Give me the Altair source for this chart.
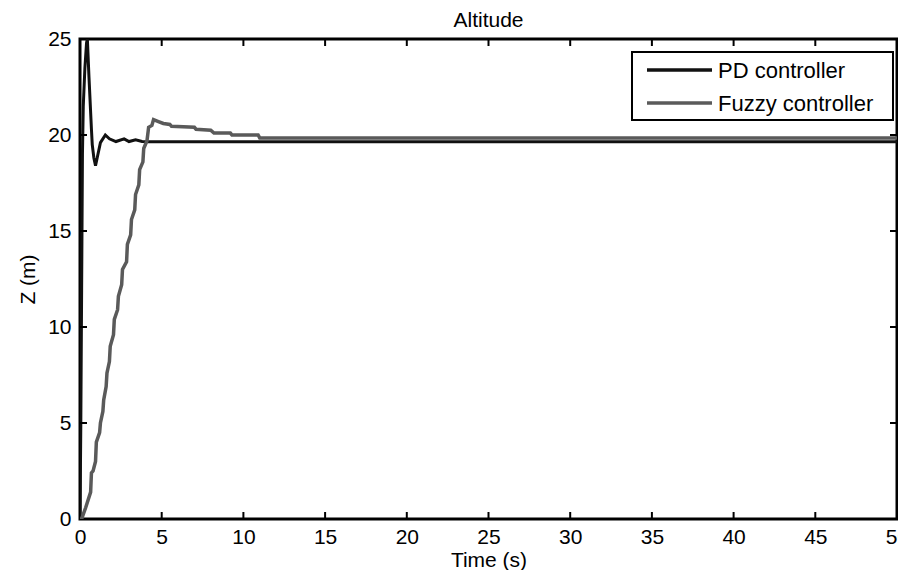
import altair as alt
import pandas as pd

# ---- data ----
series_names = ["PD controller", "Fuzzy controller"]
series_colors = ["#111111", "#5a5a5a"]

pd_t = [0, 0.05, 0.1, 0.15, 0.2, 0.3, 0.4, 0.45, 0.55, 0.7, 0.75, 0.85, 0.95, 1.05,
        1.25, 1.55, 1.8, 2.2, 2.7, 3.0, 3.4, 3.8, 4.2, 50]
pd_z = [0, 5, 12, 19, 21.5, 23.5, 24.8, 25, 23, 20.3, 19.5, 18.8, 18.4, 18.8,
        19.6, 20.0, 19.8, 19.66, 19.8, 19.66, 19.75, 19.66, 19.65, 19.65]

fz_t = [0, 0.1, 0.35, 0.65, 0.7, 0.8, 0.95, 1.0, 1.2, 1.25, 1.4, 1.45, 1.6, 1.65,
        1.8, 1.85, 2.05, 2.1, 2.3, 2.35, 2.55, 2.6, 2.85, 2.9, 3.1, 3.15, 3.35,
        3.4, 3.6, 3.65, 3.85, 3.9, 4.1, 4.2, 4.4, 4.5, 4.8, 5.1, 5.5, 5.6, 7.0,
        7.1, 8.0, 8.2, 9.2, 9.3, 10.9, 11.0, 50]
fz_z = [0, 0, 0.6, 1.4, 2.4, 2.5, 3.0, 4.0, 4.5, 5.0, 5.6, 6.2, 6.9, 7.6,
        8.2, 9.0, 9.6, 10.4, 10.9, 11.6, 12.2, 13.0, 13.4, 14.3, 14.8, 15.6, 16.1,
        16.9, 17.4, 18.2, 18.6, 19.3, 19.7, 20.4, 20.5, 20.8, 20.7, 20.6, 20.55, 20.45, 20.4,
        20.3, 20.25, 20.1, 20.1, 20.0, 20.0, 19.85, 19.85]

x_ticks = [0, 5, 10, 15, 20, 25, 30, 35, 40, 45, 50]
y_ticks = [0, 5, 10, 15, 20, 25]

W, H = 817, 480
FONT = "Liberation Sans"

pd_df = pd.DataFrame({"t": pd_t, "z": pd_z, "series": series_names[0]})
fz_df = pd.DataFrame({"t": fz_t, "z": fz_z, "series": series_names[1]})
xt_df = pd.DataFrame({"v": x_ticks[1:-1]})
yt_df = pd.DataFrame({"v": y_ticks[1:-1]})

color_scale = alt.Scale(domain=series_names, range=series_colors)
x_scale = alt.Scale(domain=[0, 50], nice=False)
y_scale = alt.Scale(domain=[0, 25], nice=False)

x_enc = alt.X("t:Q", scale=x_scale, title="Time (s)",
              axis=alt.Axis(values=x_ticks, tickSize=0, domain=False, grid=False,
                            labelPadding=7, labelFontSize=21,
                            titleFontSize=21, titleFontWeight="normal",
                            titleY=47, titleBaseline="alphabetic",
                            labelColor="black", titleColor="black", labelFlush=False))
y_enc = alt.Y("z:Q", scale=y_scale, title="Z (m)",
              axis=alt.Axis(values=y_ticks, tickSize=0, domain=False, grid=False,
                            labelPadding=9, titlePadding=9, labelFontSize=21,
                            titleFontSize=21, titleFontWeight="normal",
                            labelColor="black", titleColor="black", labelFlush=False))

pd_line = alt.Chart(pd_df).mark_line(strokeWidth=3, clip=True).encode(
    x=x_enc, y=y_enc,
    color=alt.Color("series:N", scale=color_scale, legend=None))
fz_line = alt.Chart(fz_df).mark_line(strokeWidth=3.5, clip=True).encode(
    x="t:Q", y="z:Q",
    color=alt.Color("series:N", scale=color_scale, legend=None))

tick_len = 7
bx = alt.Chart(xt_df).mark_rule(color="black", strokeWidth=2).encode(
    x=alt.X("v:Q", scale=x_scale), y=alt.value(H), y2=alt.value(H - tick_len))
tx = alt.Chart(xt_df).mark_rule(color="black", strokeWidth=2).encode(
    x=alt.X("v:Q", scale=x_scale), y=alt.value(0), y2=alt.value(tick_len))
ly = alt.Chart(yt_df).mark_rule(color="black", strokeWidth=2).encode(
    y=alt.Y("v:Q", scale=y_scale), x=alt.value(0), x2=alt.value(tick_len))
ry = alt.Chart(yt_df).mark_rule(color="black", strokeWidth=2).encode(
    y=alt.Y("v:Q", scale=y_scale), x=alt.value(W), x2=alt.value(W - tick_len))

# manual legend box
one = pd.DataFrame({"a": [0]})
box = alt.Chart(one).mark_rect(fill="white", stroke="black", strokeWidth=2).encode(
    x=alt.value(552), x2=alt.value(813), y=alt.value(13), y2=alt.value(81))

legend_layers = []
for i, name in enumerate(series_names):
    ldf = pd.DataFrame({"series": [name]})
    yy = 31 + 33 * i
    legend_layers.append(
        alt.Chart(ldf).mark_rule(strokeWidth=3.5).encode(
            x=alt.value(567), x2=alt.value(632), y=alt.value(yy),
            color=alt.Color("series:N", scale=color_scale, legend=None)))
    legend_layers.append(
        alt.Chart(ldf).mark_text(align="left", baseline="middle", fontSize=22,
                                 font=FONT, color="black").encode(
            x=alt.value(638), y=alt.value(yy + 1), text="series:N"))

chart = alt.layer(pd_line, fz_line, bx, tx, ly, ry, box, *legend_layers).properties(
    width=W, height=H,
    autosize="none",
    padding={"left": 72, "top": 31, "right": 1, "bottom": 51},
    title=alt.Title("Altitude", fontSize=21, fontWeight="normal", font=FONT,
                    color="black", offset=-3, anchor="middle"),
).configure(font=FONT).configure_view(stroke="black", strokeWidth=3)

chart.save("out.html", embed_options={"renderer": "svg", "actions": False})
